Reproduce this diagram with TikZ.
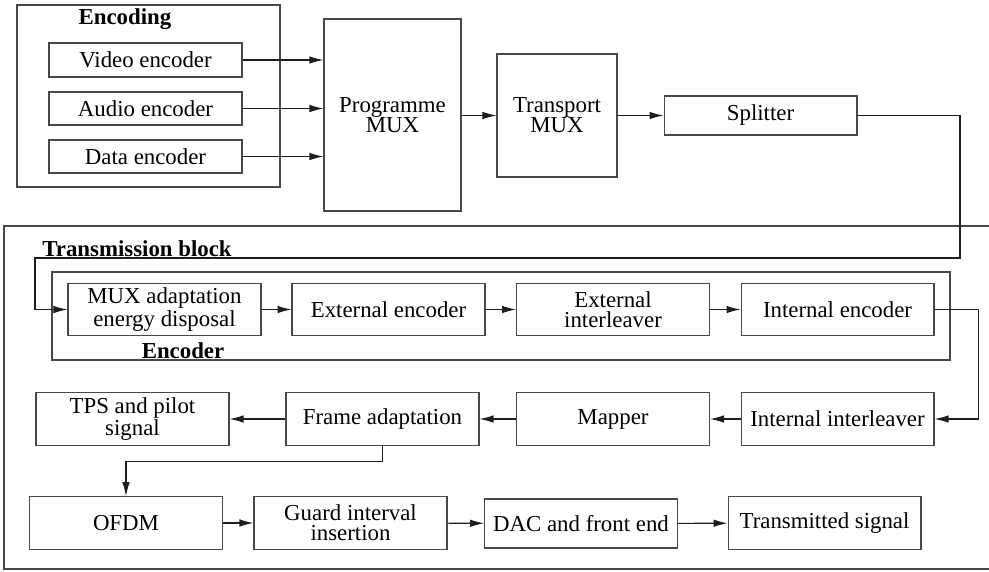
\documentclass[tikz,border=0pt]{standalone}
\usepackage{fontspec}
\setmainfont{Liberation Serif}
\usetikzlibrary{arrows.meta}
\begin{document}
\begin{tikzpicture}[x=0.02cm,y=-0.02cm,
  blockbox/.style={draw=neutralcolor,line width=0.6pt,fill=fillcolor,minimum width=3.86cm,minimum height=1.05cm,inner sep=1pt,align=center,font=\fontsize{13}{11.5}\selectfont},
  framebox/.style={draw=neutralcolor,line width=0.6pt},
  titletext/.style={font=\fontsize{13}{12}\selectfont\bfseries,inner sep=0pt},
  flow/.style={draw=pathcolor,line width=0.6pt,-{Latex[length=2.8mm,width=1.5mm]}}]
\definecolor{neutralcolor}{RGB}{72,72,72}
\definecolor{pathcolor}{RGB}{30,30,30}
\definecolor{fillcolor}{RGB}{255,255,255}
\useasboundingbox (0,0) rectangle (989,571);
\clip (0,0) rectangle (989,571);
\draw [framebox] (17,5) rectangle (280,187);
\node [titletext] (encodingtitle) at (125,19) {Encoding};
\draw [framebox] (1000,226) -- (4,226) -- (4,569) -- (1000,569);
\node [titletext] (transtitle) at (137,249) {Transmission block};
\draw [framebox] (52,272) rectangle (950,360);
\node [titletext] (encodertitle) at (183,351) {Encoder};
\node [blockbox,minimum height=0.68cm] (video) at (145.5,60) {Video encoder};
\node [blockbox,minimum height=0.66cm] (audio) at (145.5,108.5) {Audio encoder};
\node [blockbox,minimum height=0.66cm] (data) at (145.5,156.5) {Data encoder};
\node [blockbox,minimum width=2.74cm,minimum height=3.84cm] (pmux) at (392.5,115) {Programme\\MUX};
\node [blockbox,minimum width=2.4cm,minimum height=2.46cm] (tmux) at (557,115.5) {Transport\\MUX};
\node [blockbox,minimum height=0.78cm] (split) at (760.5,115.5) {Splitter};
\node [blockbox] (muxad) at (164.5,309.5) {MUX adaptation\\energy disposal};
\node [blockbox] (extenc) at (388.5,309.5) {External encoder};
\node [blockbox] (extint) at (613,309.5) {External\\interleaver};
\node [blockbox] (intenc) at (837.5,309.5) {Internal encoder};
\node [blockbox] (tps) at (132.5,419) {TPS and pilot\\signal};
\node [blockbox] (frame) at (382.5,419) {Frame adaptation};
\node [blockbox] (mapper) at (613,419) {Mapper};
\node [blockbox] (intint) at (837.5,419) {Internal interleaver};
\node [blockbox] (ofdm) at (126,523) {OFDM};
\node [blockbox] (guard) at (350.5,523) {Guard interval\\insertion};
\node [blockbox,minimum height=0.98cm] (dac) at (581,523.5) {DAC and front end};
\node [blockbox] (trans) at (824.5,523) {Transmitted signal};
\coordinate (splitturn) at (960,258);
\coordinate (encoderin) at (35,309.5);
\draw [flow] (video) -- (video -| pmux.west);
\draw [flow] (audio) -- (audio -| pmux.west);
\draw [flow] (data) -- (data -| pmux.west);
\draw [flow] (pmux.east |- tmux) -- (tmux.west);
\draw [flow] (tmux) -- (split);
\draw [flow] (split.east) -| (splitturn) -| (encoderin) -- (muxad.west);
\draw [flow] (muxad) -- (extenc);
\draw [flow] (extenc) -- (extint);
\draw [flow] (extint) -- (intenc);
\draw [flow] (intenc.east) -- ++(44,0) |- (intint.east);
\draw [flow] (intint) -- (mapper);
\draw [flow] (mapper) -- (frame);
\draw [flow] (frame) -- (tps);
\draw [flow] (frame.south) -- ++(0,16) -| (ofdm.north);
\draw [flow] (ofdm) -- (guard);
\draw [flow] (guard) -- (dac);
\draw [flow] (dac) -- (trans);
\end{tikzpicture}
\end{document}
